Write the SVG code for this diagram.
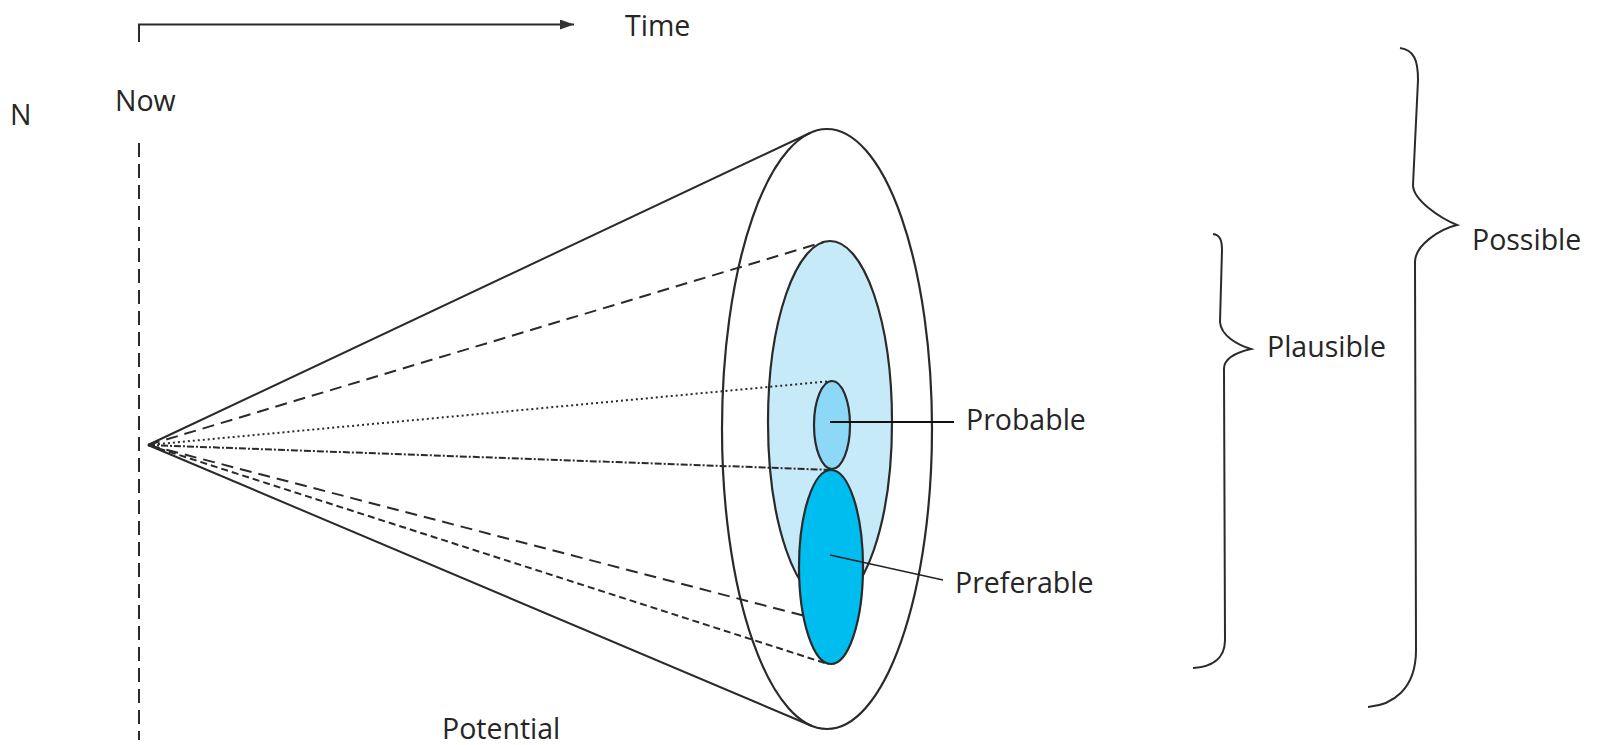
<svg xmlns="http://www.w3.org/2000/svg" width="1602" height="745" viewBox="0 0 1602 745">
<style>
  .t { font-family: "Open Sans", "Liberation Sans", sans-serif; font-size: 28.5px; fill: #262626; }
  .ln { stroke: #2a2a2a; stroke-width: 2; fill: none; }
  .el { stroke: #2a2a2a; stroke-width: 2.2; }
</style>
<defs>
  <marker id="arr" viewBox="0 0 14 10" refX="14" refY="5" markerWidth="14" markerHeight="10" markerUnits="userSpaceOnUse" orient="auto">
    <path d="M0,0 L14,5 L0,10 z" fill="#333"/>
  </marker>
</defs>
<rect width="1602" height="745" fill="#fff"/>

<g id="axis">
  <path class="ln" d="M139,42 V24.5 H574" marker-end="url(#arr)"/>
  <line class="ln" x1="139" y1="143" x2="139" y2="740" stroke-dasharray="14 7" stroke-width="1.6"/>
  <text class="t" x="625" y="36">Time</text>
  <text class="t" x="115" y="111">Now</text>
  <text class="t" x="10" y="125">N</text>
</g>

<g id="possible">
  <ellipse class="el" cx="827" cy="429" rx="105" ry="300" fill="#fff"/>
</g>
<g id="plausible">
  <ellipse class="el" cx="830" cy="422" rx="62" ry="181" fill="#c7eaf9"/>
</g>

<g id="connectors">
  <line class="ln" x1="148" y1="445" x2="810" y2="133"/>
  <line class="ln" x1="148" y1="445" x2="812" y2="726"/>
  <line class="ln" x1="148" y1="445" x2="824" y2="242" stroke-dasharray="12 7"/>
  <line class="ln" x1="148" y1="445" x2="832" y2="381" stroke-dasharray="2 3" stroke-width="1.5"/>
  <line class="ln" x1="148" y1="445" x2="832" y2="470" stroke-dasharray="7 2 2 2" stroke-width="1.7"/>
  <line class="ln" x1="148" y1="445" x2="805" y2="616" stroke-dasharray="12 7"/>
  <line class="ln" x1="148" y1="445" x2="828" y2="664" stroke-dasharray="7 4"/>
</g>

<g id="probable">
  <ellipse class="el" cx="832" cy="425" rx="18" ry="44" fill="#8dd8f6"/>
</g>
<g id="preferable">
  <ellipse class="el" cx="831" cy="567" rx="32" ry="97" fill="#00bdf0"/>
</g>

<g id="labels">
  <line x1="830" y1="422" x2="954" y2="422" stroke="#111" stroke-width="1.8"/>
  <text class="t" x="966" y="430">Probable</text>
  <line x1="830" y1="555" x2="943" y2="580" stroke="#222" stroke-width="1.3"/>
  <text class="t" x="955" y="593">Preferable</text>
  <text class="t" x="442" y="739">Potential</text>
</g>

<g id="plausible-brace">
  <path class="ln" d="M1213,234 C1220,235 1222,240 1222,250 L1220,322 C1221,336 1238,345 1251,349 C1238,352 1223,358 1224,370 L1225,640 C1225,660 1210,667 1193,668"/>
  <text class="t" x="1267" y="357">Plausible</text>
</g>

<g id="possible-brace">
  <path class="ln" d="M1400,48 C1414,50 1418,60 1418,80 L1413,185 C1413,200 1440,218 1457,225 C1440,229 1415,245 1415,262 L1416,650 C1416,690 1392,705 1368,707"/>
  <text class="t" x="1472" y="250">Possible</text>
</g>
</svg>
